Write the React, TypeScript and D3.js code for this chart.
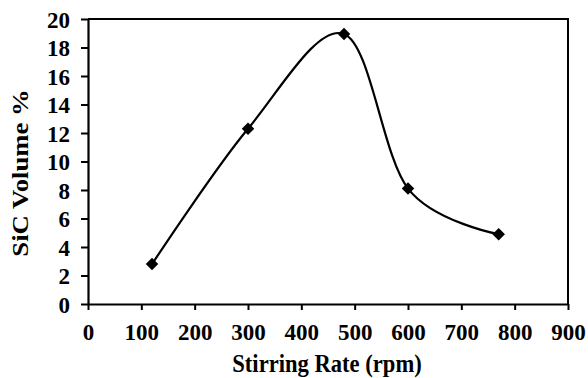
import { useEffect, useRef } from "react"
import * as d3 from "d3"

const stirringRate = [120, 300, 480, 600, 770]
const sicVolume = [2.8, 12.3, 18.95, 8.1, 4.9]
const xTicks = [0, 100, 200, 300, 400, 500, 600, 700, 800, 900]
const yTicks = [0, 2, 4, 6, 8, 10, 12, 14, 16, 18, 20]

const width = 588
const height = 378

export default function App() {
  const svgRef = useRef<SVGSVGElement>(null)

  useEffect(() => {
    if (!svgRef.current) return
    const svg = d3.select(svgRef.current)
    svg.selectAll("*").remove()

    const left = 88
    const right = 568
    const top = 19
    const bottom = 304
    const font = "'Liberation Serif', 'Times New Roman', serif"

    const x = d3.scaleLinear().domain([0, 900]).range([left, right])
    const y = d3.scaleLinear().domain([0, 20]).range([bottom, top])

    svg.append("rect").attr("width", width).attr("height", height).attr("fill", "#fff")

    // frame top + right
    svg.append("path")
      .attr("d", `M${left},${top}H${right}V${bottom}`)
      .attr("fill", "none")
      .attr("stroke", "#000")
      .attr("stroke-width", 2)

    // x axis
    const xa = svg.append("g")
      .attr("transform", `translate(0,${bottom})`)
      .call(d3.axisBottom(x).tickValues(xTicks).tickSize(6).tickSizeOuter(0))
    xa.select(".domain").attr("stroke-width", 2.2)
    xa.selectAll(".tick line").attr("stroke-width", 2)
    xa.selectAll("text")
      .attr("dy", 0)
      .attr("y", 36)
      .style("font-family", font)
      .style("font-weight", "bold")
      .style("font-size", "23px")
      .style("fill", "#000")

    // y axis
    const ya = svg.append("g")
      .attr("transform", `translate(${left},0)`)
      .call(d3.axisLeft(y).tickValues(yTicks).tickSize(7).tickSizeOuter(0))
    ya.select(".domain").attr("stroke-width", 2.2)
    ya.selectAll(".tick line").attr("stroke-width", 2)
    ya.selectAll("text")
      .attr("x", -18)
      .attr("dy", "0.35em")
      .style("font-family", font)
      .style("font-weight", "bold")
      .style("font-size", "23px")
      .style("fill", "#000")

    // curve
    const pts: [number, number][] = stirringRate.map((d, i) => [d, sicVolume[i]])
    const line = d3.line<[number, number]>()
      .x(d => x(d[0]))
      .y(d => y(d[1]))
      .curve(d3.curveCardinal.tension(0))
    svg.append("path")
      .datum(pts)
      .attr("d", line)
      .attr("fill", "none")
      .attr("stroke", "#000")
      .attr("stroke-width", 2.2)

    svg.selectAll(".pt")
      .data(pts)
      .enter()
      .append("path")
      .attr("class", "pt")
      .attr("transform", d => `translate(${x(d[0])},${y(d[1])})`)
      .attr("d", d3.symbol(d3.symbolDiamond2, 100)())
      .attr("fill", "#000")

    // titles
    svg.append("text")
      .attr("transform", `translate(${(left + right) / 2 - 1},372) scale(1,1.12)`)
      .attr("text-anchor", "middle")
      .style("font-family", font)
      .style("font-weight", "bold")
      .style("font-size", "22.6px")
      .text("Stirring Rate (rpm)")

    svg.append("text")
      .attr("transform", `translate(28,173) rotate(-90) scale(1.18,1)`)
      .attr("text-anchor", "middle")
      .style("font-family", font)
      .style("font-weight", "bold")
      .style("font-size", "22.6px")
      .text("SiC Volume %")
  }, [])

  return (
    <svg
      ref={svgRef}
      width={width}
      height={height}
      style={{ position: "absolute", left: 0, top: 0 }}
    />
  )
}
